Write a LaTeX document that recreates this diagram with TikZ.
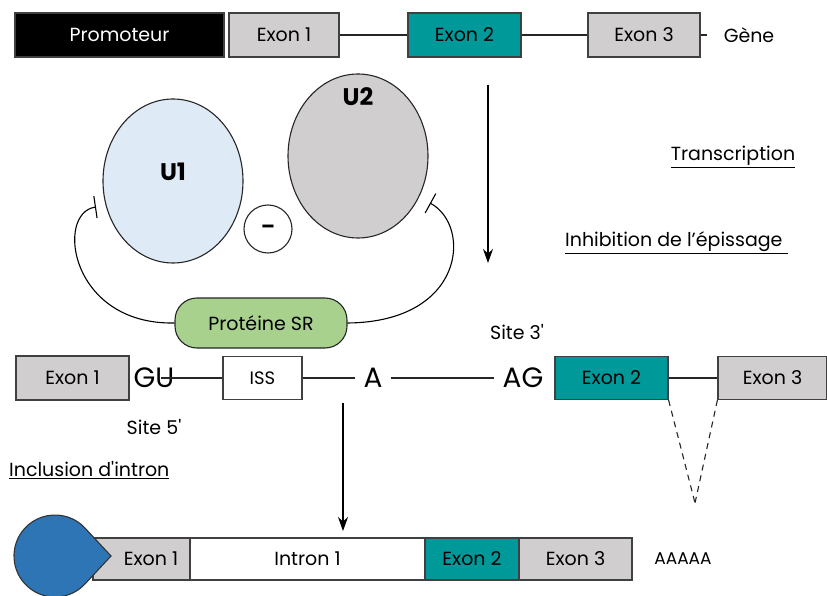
\documentclass[tikz,border=0pt]{standalone}
\usepackage{fontspec}
\setmainfont{Poppins}[Ligatures=TeXOff]
\usetikzlibrary{arrows.meta,calc,shapes.geometric}
\definecolor{exgray}{HTML}{D0CECE}
\definecolor{teal2}{HTML}{009999}
\definecolor{lblue}{HTML}{DEEBF7}
\definecolor{lgreen}{HTML}{A9D18E}
\definecolor{capblue}{HTML}{2E75B6}
\definecolor{edge}{HTML}{404040}
\newcommand{\mysz}{\fontsize{19}{22}\selectfont}
\newcommand{\bigsz}{\fontsize{28}{30}\selectfont}
\begin{document}
\begin{tikzpicture}[x=1pt,y=-1pt,
  seg/.style={draw=edge, line width=1.2pt, minimum height=44pt, inner sep=0pt, font=\mysz, anchor=center},
  grayseg/.style={seg, fill=exgray},
  tealseg/.style={seg, fill=teal2},
  lbl/.style={font=\mysz, inner sep=1pt},
  biglbl/.style={font=\bigsz, inner sep=2pt},
  conn/.style={line width=1.1pt, draw=black!85},
  inhib/.style={line width=1.1pt, -{Bar[width=22pt,line width=1.1pt]}},
  flow/.style={line width=1.2pt, -{Stealth[length=14pt,width=10pt]}}
]
\useasboundingbox (0,0) rectangle (827,596);
\fill[white] (0,0) rectangle (827,596);

% ---- top gene
\node[seg, fill=black, text=white, minimum width=209pt] (prom) at (119.5,35) {Promoteur};
\node[grayseg, minimum width=110pt] (t1) at (284,35) {Exon 1};
\node[tealseg, minimum width=113pt] (t2) at (464.5,35) {Exon 2};
\node[grayseg, minimum width=112pt] (t3) at (644,35) {Exon 3};
\node[lbl] (gene) at (749,35) {Gène};
\coordinate (tend) at (707,35);
\draw[conn] (t1.east) -- (t2.west);
\draw[conn] (t2.east) -- (t3.west);
\draw[conn] (t3.east) -- (tend);

% ---- transcription
\coordinate (tr1) at (488,85);
\coordinate (tr2) at (488,263);
\draw[flow] (tr1) -- (tr2);
\node[lbl] (transc) at (733,157) {\underline{Transcription}};
\node[lbl, anchor=west] (inhibtxt) at (564,243) {\underline{Inhibition de l’épissage\ }};

% ---- snRNPs
\node[draw=black!85, line width=1.1pt, fill=lblue, ellipse, minimum width=140pt, minimum height=164pt, inner sep=0pt] (u1) at (173,181) {};
\node[font=\fontsize{24}{26}\selectfont\bfseries] (u1l) at (173,172) {U1};
\node[draw=black!85, line width=1.1pt, fill=exgray, ellipse, minimum width=140pt, minimum height=164pt, inner sep=0pt] (u2) at (358,156) {};
\node[font=\fontsize{24}{26}\selectfont\bfseries] (u2l) at (358,97) {U2};
\node[draw=black!85, line width=1.1pt, circle, minimum size=48pt, inner sep=0pt, font=\fontsize{20}{22}\selectfont\bfseries] (minus) at (268,229) {–};
\node[draw=black!85, line width=1.1pt, fill=lgreen, rounded corners=22pt, minimum width=172pt, minimum height=50pt, font=\mysz] (sr) at (261,323) {Protéine SR};

\coordinate (b1) at (96,207);
\coordinate (b2) at (430,203);
\draw[inhib] (sr.west) .. controls (70,325) and (55,213) .. (b1);
\draw[inhib] (sr.east) .. controls (465,322) and (472,226) .. (b2);

% ---- pre-mRNA
\node[grayseg, minimum width=113pt] (m1) at (72.5,378) {Exon 1};
\node[biglbl] (gu) at (154,378) {GU};
\node[draw=edge, line width=1.2pt, minimum width=79pt, minimum height=43pt, fill=white, font=\fontsize{18}{20}\selectfont] (iss) at (262.5,378) {ISS};
\node[biglbl, inner sep=8pt] (a) at (373,378) {A};
\node[biglbl, inner sep=8pt] (ag) at (523,378) {AG};
\node[tealseg, minimum width=113pt, minimum height=43pt] (m2) at (611.5,378) {Exon 2};
\node[grayseg, minimum width=109pt, minimum height=43pt] (m3) at (772.5,378) {Exon 3};
\node[lbl] (s3) at (517,332) {Site 3'};
\node[lbl] (s5) at (154,427) {Site 5'};
\coordinate (guin) at (161,378);
\draw[conn] (guin) -- (iss.west);
\draw[conn] (iss.east) -- (a.west);
\draw[conn] (a.east) -- (ag.west);
\draw[conn] (m2.east) -- (m3.west);
\coordinate (vtip) at (695,503);
\draw[conn, dashed, dash pattern=on 6pt off 5pt] (m2.south east) -- (vtip);
\draw[conn, dashed, dash pattern=on 6pt off 5pt] (m3.south west) -- (vtip);

\node[lbl, anchor=west] (incl) at (8,470) {\underline{Inclusion d'intron}};

% ---- arrow to mRNA
\coordinate (d1) at (343,403);
\coordinate (d2) at (343,531);
\draw[flow] (d1) -- (d2);

% ---- mature transcript
\node[grayseg, minimum width=97pt, minimum height=42pt] (f1) at (141.5,559) {};
\node[seg, fill=white, minimum width=235pt, minimum height=42pt] (fi) at (307.5,559) {Intron 1};
\node[tealseg, minimum width=94pt, minimum height=42pt] (f2) at (472,559) {Exon 2};
\node[grayseg, minimum width=113pt, minimum height=42pt] (f3) at (575.5,559) {Exon 3};
\node[font=\fontsize{17}{20}\selectfont, inner sep=1pt] (polya) at (683,559) {AAAAA};
\filldraw[fill=capblue, draw=black!80, line width=1.1pt]
  (111,556) -- ($(55,556)+(41.8:41)$) arc[start angle=41.8, end angle=318.2, radius=41] -- cycle;
\node[lbl] (f1l) at (151,559) {Exon 1};
\end{tikzpicture}
\end{document}
